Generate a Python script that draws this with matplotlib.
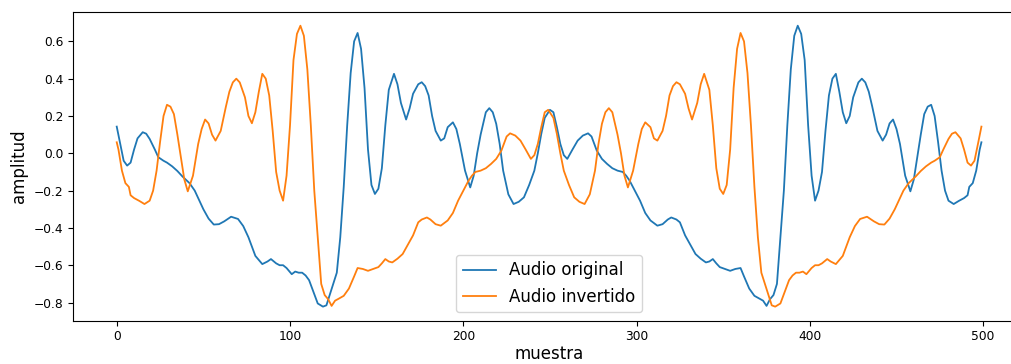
import numpy as np
import matplotlib.pyplot as plt

muestra = [
    0, 2, 4, 6, 8, 10, 12, 15, 17, 19, 22, 24, 27, 29, 32, 35, 38, 42, 45, 47,
    50, 53, 56, 59, 62, 66, 70, 73, 76, 80, 84, 87, 89, 92, 94, 96, 98, 101, 103, 105,
    107, 109, 111, 114, 116, 119, 121, 124, 127, 129, 131, 133, 135, 137, 139, 141, 143, 145, 147, 149,
    151, 153, 155, 157, 160, 162, 164, 167, 169, 171, 174, 176, 178, 180, 182, 184, 187, 189, 191, 194,
    196, 198, 201, 204, 206, 208, 210, 213, 215, 217, 219, 221, 223, 226, 229, 232, 235, 238, 241, 243,
    245, 247, 250, 252, 254, 256, 258, 260, 263, 266, 269, 272, 274, 277, 280, 283, 286, 289, 292, 294,
    296, 299, 302, 305, 308, 312, 315, 318, 320, 323, 325, 328, 331, 334, 337, 340, 342, 344, 346, 348,
    351, 354, 357, 360, 362, 365, 368, 371, 373, 375, 377, 379, 381, 383, 385, 387, 389, 391, 393, 395,
    397, 399, 401, 403, 405, 407, 409, 411, 413, 415, 417, 419, 421, 423, 425, 428, 430, 432, 434, 436,
    439, 442, 444, 446, 448, 450, 452, 455, 458, 460, 462, 464, 466, 468, 470, 472, 474, 476, 478, 480,
    483, 486, 489, 491, 492, 494, 496, 498, 499,
]
original = [
    0.143, 0.05, -0.04, -0.066, -0.05, 0.02, 0.08, 0.113, 0.105, 0.077, 0.02, -0.021, -0.04, -0.05, -0.07, -0.095, -0.125, -0.16, -0.2, -0.24,
    -0.3, -0.35, -0.382, -0.38, -0.365, -0.34, -0.352, -0.39, -0.45, -0.55, -0.594, -0.58, -0.567, -0.59, -0.6, -0.6, -0.615, -0.648, -0.634, -0.64,
    -0.64, -0.655, -0.68, -0.755, -0.805, -0.822, -0.815, -0.728, -0.64, -0.45, -0.18, 0.15, 0.43, 0.6, 0.645, 0.56, 0.35, 0.02, -0.17, -0.218,
    -0.19, -0.08, 0.15, 0.34, 0.426, 0.37, 0.27, 0.181, 0.24, 0.319, 0.37, 0.381, 0.36, 0.31, 0.2, 0.12, 0.068, 0.08, 0.14, 0.166,
    0.13, 0.05, -0.093, -0.183, -0.12, 0.0, 0.1, 0.22, 0.242, 0.22, 0.158, 0.05, -0.093, -0.22, -0.272, -0.26, -0.236, -0.17, -0.093, 0.0,
    0.104, 0.19, 0.233, 0.22, 0.14, 0.05, -0.01, -0.03, 0.02, 0.068, 0.095, 0.107, 0.09, 0.015, -0.03, -0.057, -0.08, -0.093, -0.1, -0.12,
    -0.147, -0.2, -0.254, -0.32, -0.36, -0.388, -0.38, -0.355, -0.344, -0.355, -0.37, -0.44, -0.49, -0.54, -0.565, -0.585, -0.58, -0.567, -0.59, -0.61,
    -0.62, -0.63, -0.62, -0.615, -0.66, -0.725, -0.764, -0.78, -0.79, -0.818, -0.782, -0.76, -0.7, -0.45, -0.2, 0.15, 0.45, 0.63, 0.684, 0.64,
    0.5, 0.15, -0.12, -0.254, -0.2, -0.1, 0.12, 0.31, 0.4, 0.426, 0.33, 0.22, 0.161, 0.2, 0.3, 0.38, 0.4, 0.38, 0.33, 0.25,
    0.12, 0.068, 0.1, 0.16, 0.181, 0.13, 0.05, -0.12, -0.204, -0.14, -0.02, 0.1, 0.21, 0.25, 0.26, 0.2, 0.06, -0.093, -0.2, -0.254,
    -0.272, -0.255, -0.24, -0.225, -0.18, -0.16, -0.093, 0.02, 0.059,
]

# el audio invertido es el mismo audio leido al reves
muestra = np.array(muestra)
original = np.array(original)
muestra_inv = muestra.max() - muestra[::-1]
invertido = original[::-1]

fig = plt.figure(figsize=(10.11, 3.64), dpi=100)
# el eje derecho queda fuera de la imagen, como en la captura
ax = fig.add_axes([0.0727, 0.119, 0.9408, 0.849])
ax.plot(muestra, original, lw=1.3, label="Audio original")
ax.plot(muestra_inv, invertido, lw=1.3, label="Audio invertido")
ax.set_xlabel("muestra", fontsize=12, labelpad=1.5)
ax.set_ylabel("amplitud", fontsize=12)
ax.tick_params(labelsize=8.8)
ax.legend(loc="lower center", fontsize=12)
fig.savefig("out.png", dpi=100)
